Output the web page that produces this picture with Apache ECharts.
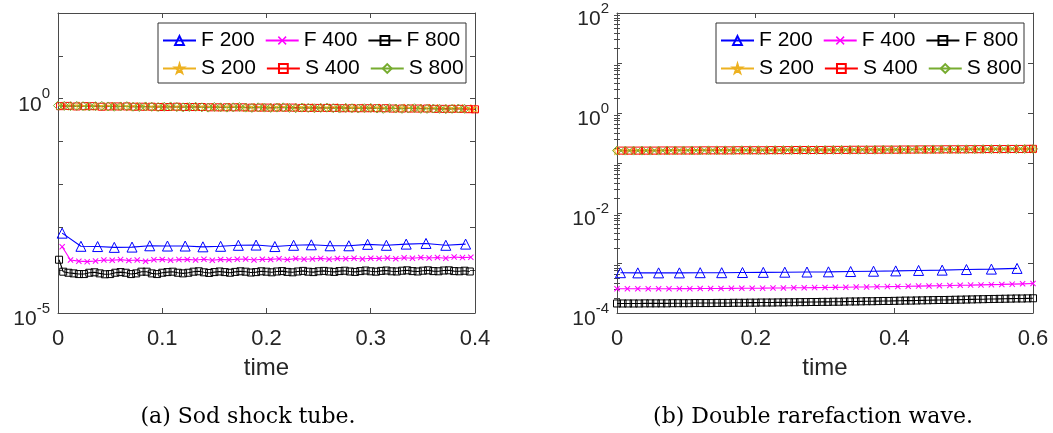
<!DOCTYPE html>
<html>
<head>
<meta charset="utf-8">
<script src="https://cdn.jsdelivr.net/npm/echarts@6/dist/echarts.min.js"></script>
<style>
html,body{margin:0;padding:0;background:#fff;}
#c{width:1053px;height:433px;}
</style>
</head>
<body>
<div id="c"></div>
<script>
// ---------- Data: (a) Sod shock tube ----------
const seriesNames = ['F 200', 'F 400', 'F 800', 'S 200', 'S 400', 'S 800'];
const xTicksA = [0, 0.1, 0.2, 0.3, 0.4];
const xTicksB = [0, 0.2, 0.4, 0.6];

const tA_F200 = [0.004,0.022,0.038,0.054,0.071,0.088,0.105,0.122,0.139,0.156,0.173,0.190,0.208,0.226,0.243,0.261,0.279,0.297,0.315,0.334,0.353,0.372,0.391];
const vA_F200 = [7.3e-4,3.6e-4,3.55e-4,3.4e-4,3.45e-4,3.7e-4,3.65e-4,3.65e-4,3.5e-4,3.6e-4,3.8e-4,3.85e-4,3.55e-4,3.8e-4,3.9e-4,3.7e-4,3.7e-4,4.0e-4,3.8e-4,4.05e-4,4.2e-4,3.8e-4,4.05e-4];

const tA_F400 = [0.004,0.012,0.020,0.028,0.036,0.044,0.052,0.060,0.068,0.076,0.084,0.092,0.100,0.108,0.116,0.124,0.132,0.140,0.148,0.156,0.164,0.172,0.180,0.188,0.196,0.204,0.212,0.220,0.228,0.236,0.244,0.252,0.260,0.268,0.276,0.284,0.292,0.300,0.308,0.316,0.324,0.332,0.340,0.348,0.356,0.364,0.372,0.380,0.388,0.396];
const vA_F400 = [3.5e-4,
  1.72e-4,1.62e-4,1.58e-4,1.63e-4,1.72e-4,1.70e-4,1.76e-4,1.68e-4,1.72e-4,1.62e-4,
  1.75e-4,1.78e-4,1.70e-4,1.76e-4,1.78e-4,1.72e-4,1.80e-4,1.70e-4,1.78e-4,1.74e-4,
  1.80e-4,1.82e-4,1.72e-4,1.80e-4,1.78e-4,1.84e-4,1.76e-4,1.86e-4,1.80e-4,1.83e-4,
  1.88e-4,1.80e-4,1.86e-4,1.84e-4,1.90e-4,1.82e-4,1.90e-4,1.87e-4,1.92e-4,1.84e-4,
  1.95e-4,1.90e-4,1.97e-4,1.92e-4,1.98e-4,1.90e-4,2.02e-4,1.96e-4,2.0e-4];

const tA_F800 = [0.001,0.005,0.010,0.015,0.020,0.025,0.030,0.035,0.040,0.045,0.050,0.055,0.060,0.065,0.070,0.075,0.080,0.085,0.090,0.095,0.100,0.105,0.110,0.115,0.120,0.125,0.130,0.135,0.140,0.145,0.150,0.155,0.160,0.165,0.170,0.175,0.180,0.185,0.190,0.195,0.200,0.205,0.210,0.215,0.220,0.225,0.230,0.235,0.240,0.245,0.250,0.255,0.260,0.265,0.270,0.275,0.280,0.285,0.290,0.295,0.300,0.305,0.310,0.315,0.320,0.325,0.330,0.335,0.340,0.345,0.350,0.355,0.360,0.365,0.370,0.375,0.380,0.385,0.390,0.395];
const vA_F800 = [1.75e-4,
  9.2e-5,8.7e-5,8.4e-5,8.1e-5,8.1e-5,8.7e-5,8.9e-5,8.4e-5,8.0e-5,8.1e-5,
  8.7e-5,9.0e-5,8.7e-5,8.1e-5,8.4e-5,9.2e-5,9.2e-5,8.4e-5,8.1e-5,8.7e-5,
  9.0e-5,9.2e-5,8.7e-5,8.4e-5,8.7e-5,9.2e-5,9.4e-5,8.9e-5,8.6e-5,9.0e-5,
  9.3e-5,9.0e-5,8.7e-5,9.1e-5,9.4e-5,9.2e-5,8.8e-5,9.0e-5,9.4e-5,9.2e-5,
  8.9e-5,9.3e-5,9.5e-5,9.1e-5,8.9e-5,9.3e-5,9.6e-5,9.2e-5,9.0e-5,9.4e-5,
  9.6e-5,9.3e-5,9.1e-5,9.5e-5,9.7e-5,9.3e-5,9.1e-5,9.5e-5,9.8e-5,9.4e-5,
  9.2e-5,9.6e-5,9.8e-5,9.4e-5,9.3e-5,9.7e-5,9.9e-5,9.5e-5,9.3e-5,9.7e-5,
  9.9e-5,9.5e-5,9.4e-5,9.8e-5,9.9e-5,9.5e-5,9.4e-5,9.7e-5,9.3e-5];

const tA_S200 = [0.004,0.012,0.020,0.028,0.036,0.044,0.052,0.060,0.068,0.076,0.084,0.092,0.100,0.108,0.116,0.124,0.132,0.140,0.148,0.156,0.164,0.172,0.180,0.188,0.196,0.204,0.212,0.220,0.228,0.236,0.244,0.252,0.260,0.268,0.276,0.284,0.292,0.300,0.308,0.316,0.324,0.332,0.340,0.348,0.356,0.364,0.372,0.380,0.388,0.396,0.400];
const tA_S400 = [0.002,0.010,0.018,0.026,0.034,0.042,0.050,0.058,0.066,0.074,0.082,0.090,0.098,0.106,0.114,0.122,0.130,0.138,0.146,0.154,0.162,0.170,0.178,0.186,0.194,0.202,0.210,0.218,0.226,0.234,0.242,0.250,0.258,0.266,0.274,0.282,0.290,0.298,0.306,0.314,0.322,0.330,0.338,0.346,0.354,0.362,0.370,0.378,0.386,0.394,0.400];
const tA_S800 = [0.000,0.006,0.012,0.018,0.024,0.030,0.036,0.042,0.048,0.054,0.060,0.066,0.072,0.078,0.084,0.090,0.096,0.102,0.108,0.114,0.120,0.126,0.132,0.138,0.144,0.150,0.156,0.162,0.168,0.174,0.180,0.186,0.192,0.198,0.204,0.210,0.216,0.222,0.228,0.234,0.240,0.246,0.252,0.258,0.264,0.270,0.276,0.282,0.288,0.294,0.300,0.306,0.312,0.318,0.324,0.330,0.336,0.342,0.348,0.354,0.360,0.366,0.372,0.378,0.384,0.390];
const vA_S200 = [0.68,0.67,0.68,0.66,0.67,0.66,0.67,0.67,0.65,0.66,
  0.66,0.64,0.65,0.65,0.64,0.65,0.65,0.64,0.64,0.63,
  0.64,0.64,0.62,0.63,0.63,0.62,0.63,0.63,0.62,0.62,
  0.62,0.62,0.61,0.62,0.62,0.61,0.61,0.61,0.61,0.60,
  0.60,0.61,0.60,0.60,0.60,0.60,0.59,0.59,0.59,0.59,0.58];
const vA_S400 = [0.67,0.68,0.66,0.67,0.67,0.65,0.66,0.66,0.66,0.65,
  0.65,0.65,0.64,0.64,0.65,0.64,0.64,0.64,0.63,0.63,
  0.63,0.63,0.63,0.62,0.62,0.62,0.62,0.62,0.62,0.61,
  0.61,0.61,0.61,0.61,0.60,0.60,0.60,0.60,0.60,0.60,
  0.59,0.59,0.59,0.59,0.59,0.58,0.58,0.58,0.58,0.57,0.565];
const vA_S800 = [0.69,0.68,0.67,0.68,0.67,0.66,0.67,0.68,0.66,0.65,
  0.66,0.67,0.65,0.64,0.66,0.65,0.64,0.65,0.66,0.64,
  0.63,0.64,0.65,0.63,0.62,0.64,0.63,0.62,0.63,0.64,
  0.62,0.61,0.63,0.62,0.61,0.62,0.63,0.61,0.60,0.62,
  0.61,0.60,0.61,0.62,0.60,0.59,0.61,0.60,0.59,0.60,
  0.61,0.59,0.58,0.60,0.59,0.58,0.59,0.60,0.58,0.58,
  0.59,0.58,0.57,0.58,0.59,0.58];

// ---------- Data: (b) Double rarefaction wave ----------
const tB_F200 = [0.005,0.030,0.060,0.090,0.120,0.151,0.181,0.211,0.242,0.274,0.305,0.337,0.370,0.402,0.435,0.469,0.504,0.540,0.577];
const vB_F200 = [6.4e-4,6.35e-4,6.35e-4,6.35e-4,6.4e-4,6.4e-4,6.45e-4,6.5e-4,6.55e-4,6.6e-4,6.65e-4,6.75e-4,6.85e-4,6.95e-4,7.1e-4,7.2e-4,7.4e-4,7.55e-4,7.8e-4];

const tB_F400 = [0.000,0.015,0.030,0.045,0.060,0.075,0.090,0.105,0.120,0.135,0.150,0.165,0.180,0.195,0.210,0.225,0.240,0.255,0.270,0.285,0.300,0.315,0.330,0.345,0.360,0.375,0.390,0.405,0.420,0.435,0.450,0.465,0.480,0.495,0.510,0.525,0.540,0.555,0.570,0.585,0.600];
const vB_F400 = [3.05e-4,3.05e-4,3.05e-4,3.05e-4,3.06e-4,3.06e-4,3.07e-4,3.07e-4,3.08e-4,3.09e-4,
  3.10e-4,3.11e-4,3.12e-4,3.13e-4,3.14e-4,3.16e-4,3.17e-4,3.19e-4,3.20e-4,3.22e-4,
  3.24e-4,3.26e-4,3.28e-4,3.30e-4,3.32e-4,3.35e-4,3.37e-4,3.40e-4,3.42e-4,3.45e-4,
  3.48e-4,3.51e-4,3.54e-4,3.58e-4,3.61e-4,3.65e-4,3.69e-4,3.73e-4,3.78e-4,3.83e-4,3.88e-4];

const tB_F800 = [0.000,0.008,0.016,0.024,0.032,0.040,0.048,0.056,0.064,0.072,0.080,0.088,0.096,0.104,0.112,0.120,0.128,0.136,0.144,0.152,0.160,0.168,0.176,0.184,0.192,0.200,0.208,0.216,0.224,0.232,0.240,0.248,0.256,0.264,0.272,0.280,0.288,0.296,0.304,0.312,0.320,0.328,0.336,0.344,0.352,0.360,0.368,0.376,0.384,0.392,0.400,0.408,0.416,0.424,0.432,0.440,0.448,0.456,0.464,0.472,0.480,0.488,0.496,0.504,0.512,0.520,0.528,0.536,0.544,0.552,0.560,0.568,0.576,0.584,0.592,0.600];
const vB_F800 = [1.55e-4,1.55e-4,1.55e-4,1.55e-4,1.55e-4,1.56e-4,1.56e-4,1.56e-4,1.56e-4,1.56e-4,
  1.57e-4,1.57e-4,1.57e-4,1.57e-4,1.58e-4,1.58e-4,1.58e-4,1.58e-4,1.59e-4,1.59e-4,
  1.59e-4,1.60e-4,1.60e-4,1.60e-4,1.61e-4,1.61e-4,1.62e-4,1.62e-4,1.62e-4,1.63e-4,
  1.63e-4,1.64e-4,1.64e-4,1.65e-4,1.65e-4,1.66e-4,1.66e-4,1.67e-4,1.67e-4,1.68e-4,
  1.68e-4,1.69e-4,1.70e-4,1.70e-4,1.71e-4,1.72e-4,1.72e-4,1.73e-4,1.74e-4,1.74e-4,
  1.75e-4,1.76e-4,1.77e-4,1.77e-4,1.78e-4,1.79e-4,1.80e-4,1.81e-4,1.82e-4,1.82e-4,
  1.83e-4,1.84e-4,1.85e-4,1.86e-4,1.87e-4,1.88e-4,1.89e-4,1.90e-4,1.91e-4,1.92e-4,
  1.93e-4,1.94e-4,1.95e-4,1.95e-4,1.96e-4,1.97e-4];

const tB_S = [0.000,0.012,0.024,0.036,0.048,0.060,0.072,0.084,0.096,0.108,0.120,0.132,0.144,0.156,0.168,0.180,0.192,0.204,0.216,0.228,0.240,0.252,0.264,0.276,0.288,0.300,0.312,0.324,0.336,0.348,0.360,0.372,0.384,0.396,0.408,0.420,0.432,0.444,0.456,0.468,0.480,0.492,0.504,0.516,0.528,0.540,0.552,0.564,0.576,0.588,0.600];
const tB_S400 = [0.006,0.018,0.030,0.042,0.054,0.066,0.078,0.090,0.102,0.114,0.126,0.138,0.150,0.162,0.174,0.186,0.198,0.210,0.222,0.234,0.246,0.258,0.270,0.282,0.294,0.306,0.318,0.330,0.342,0.354,0.366,0.378,0.390,0.402,0.414,0.426,0.438,0.450,0.462,0.474,0.486,0.498,0.510,0.522,0.534,0.546,0.558,0.570,0.582,0.594,0.600];
const vB_S200 = [0.176,0.176,0.177,0.177,0.177,0.177,0.177,0.178,0.178,0.178,
  0.178,0.178,0.179,0.179,0.179,0.179,0.180,0.180,0.180,0.180,
  0.181,0.181,0.181,0.181,0.182,0.182,0.182,0.183,0.183,0.183,
  0.184,0.184,0.184,0.185,0.185,0.185,0.186,0.186,0.186,0.187,
  0.187,0.187,0.188,0.188,0.188,0.189,0.189,0.190,0.190,0.190,0.191];
const vB_S400 = [0.177,0.177,0.177,0.177,0.177,0.178,0.178,0.178,0.178,0.178,
  0.179,0.179,0.179,0.179,0.180,0.180,0.180,0.180,0.181,0.181,
  0.181,0.182,0.182,0.182,0.182,0.183,0.183,0.183,0.184,0.184,
  0.184,0.185,0.185,0.185,0.186,0.186,0.187,0.187,0.187,0.188,
  0.188,0.188,0.189,0.189,0.190,0.190,0.190,0.191,0.191,0.192,0.192];
const vB_S800 = [0.177,0.177,0.177,0.177,0.177,0.177,0.178,0.178,0.178,0.178,
  0.178,0.179,0.179,0.179,0.179,0.180,0.180,0.180,0.180,0.181,
  0.181,0.181,0.181,0.182,0.182,0.182,0.183,0.183,0.183,0.184,
  0.184,0.184,0.185,0.185,0.185,0.186,0.186,0.186,0.187,0.187,
  0.187,0.188,0.188,0.188,0.189,0.189,0.190,0.190,0.190,0.191,0.191];

const minorTicksB = [2e-4,3e-4,4e-4,5e-4,6e-4,7e-4,8e-4,9e-4,2e-3,3e-3,4e-3,5e-3,6e-3,7e-3,8e-3,9e-3,
  2e-2,3e-2,4e-2,5e-2,6e-2,7e-2,8e-2,9e-2,0.2,0.3,0.4,0.5,0.6,0.7,0.8,0.9,2,3,4,5,6,7,8,9,20,30,40,50,60,70,80,90];

// ---------- styling ----------
const SANS = 'Liberation Sans, Arial, Helvetica, sans-serif';
const AX = '#4a4a4a';
const TXT = '#262626';
const STAR = 'path://M50,0 L61,35 L98,35 L68,57 L79,91 L50,70 L21,91 L32,57 L2,35 L39,35 Z';
const CROSS = 'path://M12,0 L50,38 L88,0 L100,12 L62,50 L100,88 L88,100 L50,62 L12,100 L0,88 L38,50 L0,12 Z';

const styles = {
  'F 200': {color: '#0000FF', symbol: 'triangle', size: 10, hollow: true},
  'F 400': {color: '#FF00FF', symbol: CROSS, size: 6, hollow: false},
  'F 800': {color: '#000000', symbol: 'rect', size: 7, hollow: true},
  'S 200': {color: '#EDB120', symbol: STAR, size: 8, hollow: true},
  'S 400': {color: '#FF0000', symbol: 'rect', size: 7, hollow: true},
  'S 800': {color: '#77AC30', symbol: 'diamond', size: 9, hollow: true}
};

function zip(t, v) { return t.map((x, i) => [x, v[i]]); }

function mkSeries(name, t, v, xi, yi) {
  const s = styles[name];
  return {
    type: 'line', name: name, xAxisIndex: xi, yAxisIndex: yi,
    data: zip(t, v),
    symbol: s.symbol, symbolSize: s.size, showSymbol: true,
    lineStyle: {color: s.color, width: 1.1},
    itemStyle: s.hollow ? {color: 'rgba(255,255,255,0)', borderColor: s.color, borderWidth: 1}
                        : {color: s.color, borderWidth: 0},
    emphasis: {disabled: true},
    animation: false
  };
}

function supFmt(step) {
  return function (v) {
    const e = Math.round(Math.log10(v));
    if (e % step !== 0) return '';
    return '{b|10}{e|' + e + '}';
  };
}
const richY = {
  b: {fontSize: 21, lineHeight: 36, fontFamily: SANS, color: TXT},
  e: {fontSize: 15, lineHeight: 15, verticalAlign: 'top', fontFamily: SANS, color: TXT}
};

function xAx(grid, max, interval, pos, labels) {
  return {
    type: 'value', gridIndex: grid, position: pos, min: 0, max: max, interval: interval,
    axisLine: {show: true, onZero: false, lineStyle: {color: AX, width: 1}},
    axisTick: {show: true, inside: true, length: 5, lineStyle: {color: AX}},
    splitLine: {show: false},
    axisLabel: {show: labels, fontSize: 22, fontFamily: SANS, color: TXT, margin: 15},
    name: labels ? 'time' : '', nameLocation: 'middle', nameGap: 43,
    nameTextStyle: {fontSize: 24, fontFamily: SANS, color: TXT}
  };
}
function yAx(grid, min, max, pos, labelStep) {
  return {
    type: 'log', logBase: 10, gridIndex: grid, position: pos, min: min, max: max,
    axisLine: {show: true, onZero: false, lineStyle: {color: AX, width: 1}},
    axisTick: {show: true, inside: true, length: 5, lineStyle: {color: AX}},
    splitLine: {show: false}, minorTick: {show: false},
    axisLabel: labelStep ? {show: true, formatter: supFmt(labelStep), rich: richY, margin: 8, padding: [12, 0, 0, 0]} : {show: false}
  };
}
function yMinor(grid, pos) {
  return {
    type: 'log', logBase: 10, gridIndex: grid, position: pos, min: 1e-4, max: 1e2,
    axisLine: {show: false},
    axisTick: {show: true, inside: true, length: 3, customValues: minorTicksB, lineStyle: {color: AX}},
    splitLine: {show: false},
    axisLabel: {show: false}
  };
}

function legends(left, names1, names2) {
  const base = {
    orient: 'horizontal', left: left, itemWidth: 33, itemHeight: 11, itemGap: 10,
    padding: 0, selectedMode: false, z: 10,
    textStyle: {fontSize: 21, fontFamily: SANS, color: '#000'}
  };
  return [
    Object.assign({}, base, {top: 30, data: names1}),
    Object.assign({}, base, {top: 58, data: names2})
  ];
}

const option = {
  backgroundColor: '#fff',
  animation: false,
  grid: [
    {left: 58, top: 13, width: 417, height: 300},
    {left: 617, top: 13, width: 416, height: 300}
  ],
  xAxis: [
    xAx(0, 0.4, 0.1, 'bottom', true),
    xAx(0, 0.4, 0.1, 'top', false),
    xAx(1, 0.6, 0.2, 'bottom', true),
    xAx(1, 0.6, 0.2, 'top', false)
  ],
  yAxis: [
    yAx(0, 1e-5, 1e2, 'left', 5),
    yAx(0, 1e-5, 1e2, 'right', 0),
    yAx(1, 1e-4, 1e2, 'left', 2),
    yAx(1, 1e-4, 1e2, 'right', 0),
    yMinor(1, 'left'),
    yMinor(1, 'right')
  ],
  legend: [].concat(
    legends(162, ['F 200', 'F 400', 'F 800'], ['S 200', 'S 400', 'S 800']),
    legends(720, ['F 200', 'F 400', 'F 800'], ['S 200', 'S 400', 'S 800'])
  ),
  graphic: [
    {type: 'rect', z: 5, shape: {x: 158, y: 23, width: 308, height: 60}, style: {fill: '#fff', stroke: '#333', lineWidth: 1}},
    {type: 'rect', z: 5, shape: {x: 716, y: 23, width: 308, height: 60}, style: {fill: '#fff', stroke: '#333', lineWidth: 1}},
    {type: 'text', x: 248, y: 417, style: {text: '(a) Sod shock tube.', font: '22px "DejaVu Serif"', fill: '#000', textAlign: 'center', textVerticalAlign: 'middle'}},
    {type: 'text', x: 813, y: 417, style: {text: '(b) Double rarefaction wave.', font: '22px "DejaVu Serif"', fill: '#000', textAlign: 'center', textVerticalAlign: 'middle'}}
  ],
  series: [
    mkSeries('F 200', tA_F200, vA_F200, 0, 0),
    mkSeries('F 400', tA_F400, vA_F400, 0, 0),
    mkSeries('F 800', tA_F800, vA_F800, 0, 0),
    mkSeries('S 200', tA_S200, vA_S200, 0, 0),
    mkSeries('S 400', tA_S400, vA_S400, 0, 0),
    mkSeries('S 800', tA_S800, vA_S800, 0, 0),
    mkSeries('F 200', tB_F200, vB_F200, 2, 2),
    mkSeries('F 400', tB_F400, vB_F400, 2, 2),
    mkSeries('F 800', tB_F800, vB_F800, 2, 2),
    mkSeries('S 200', tB_S, vB_S200, 2, 2),
    mkSeries('S 400', tB_S400, vB_S400, 2, 2),
    mkSeries('S 800', tB_S, vB_S800, 2, 2)
  ]
};

const chart = echarts.init(document.getElementById('c'), null, {renderer: 'canvas'});
chart.setOption(option);
</script>
</body>
</html>
